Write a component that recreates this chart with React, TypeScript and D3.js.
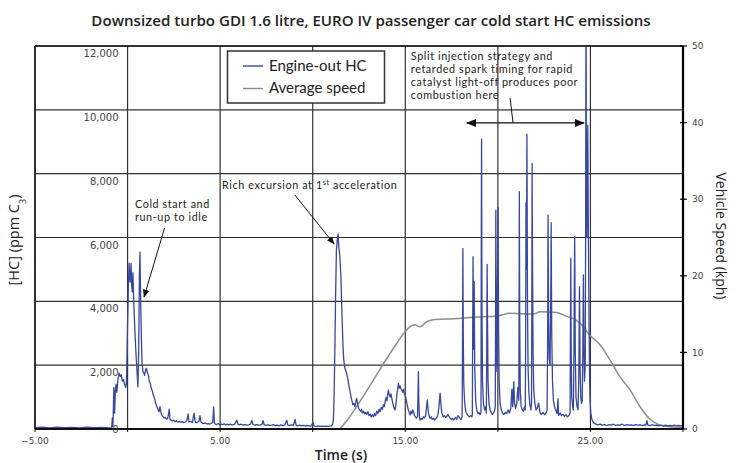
import React from "react";
import * as d3 from "d3";

// ---------- data ----------
const xLabelTicks = [-5, 5, 15, 25];
const xGridTicks = [-5, 0, 5, 10, 15, 20, 25, 30];
const hcTicks = [0, 2000, 4000, 6000, 8000, 10000, 12000];
const speedTicks = [0, 10, 20, 30, 40, 50];

const seriesNames = ["Engine-out HC", "Average speed"];

// [time (s), HC (ppm C3)]
const hcPoints: [number, number][] = [
  [-5, 40], [-4.6, 55], [-4.2, 35], [-3.8, 60], [-3.4, 40], [-3, 50], [-2.6, 35], [-2.2, 55], [-1.8, 40], [-1.4, 50], [-1.0, 35], [-0.86, 40],
  [-0.82, 350], [-0.79, 80], [-0.74, 1300], [-0.7, 500], [-0.66, 1200], [-0.62, 1400], [-0.58, 1150], [-0.52, 1550], [-0.46, 1750], [-0.4, 1650],
  [-0.34, 1700], [-0.28, 1500], [-0.22, 1550], [-0.16, 1400], [-0.1, 1300], [-0.06, 1450], [0.0, 3300], [0.05, 4600], [0.08, 5200], [0.11, 4800],
  [0.14, 4600], [0.19, 5190], [0.22, 4500], [0.25, 4300], [0.29, 4900], [0.34, 3900], [0.4, 3000], [0.46, 2300], [0.52, 1700], [0.56, 1320],
  [0.6, 2400], [0.64, 4800], [0.67, 5540], [0.7, 4300], [0.74, 3000], [0.78, 2100], [0.83, 1800], [0.88, 1750], [0.92, 1680], [0.97, 1850],
  [1.02, 1900], [1.07, 1760], [1.12, 1700], [1.17, 1500], [1.22, 1450], [1.27, 1300], [1.33, 1200], [1.38, 1080], [1.43, 1000], [1.48, 900],
  [1.53, 780], [1.59, 700], [1.64, 620], [1.7, 540], [1.75, 700], [1.8, 520], [1.86, 420], [1.92, 380], [1.98, 340], [2.04, 360], [2.1, 310],
  [2.16, 320], [2.22, 500], [2.25, 620], [2.29, 300], [2.35, 280], [2.42, 250], [2.5, 270], [2.56, 230], [2.64, 260], [2.72, 220], [2.8, 240],
  [2.88, 210], [2.96, 230], [3.04, 200], [3.12, 220], [3.2, 260], [3.27, 470], [3.32, 220], [3.4, 240], [3.5, 200], [3.59, 500], [3.64, 260],
  [3.7, 200], [3.78, 210], [3.86, 250], [3.91, 420], [3.96, 220], [4.04, 180], [4.12, 170], [4.2, 190], [4.28, 160], [4.36, 170], [4.44, 150],
  [4.52, 180], [4.6, 200], [4.65, 690], [4.69, 200], [4.74, 150], [4.82, 140], [4.9, 170], [4.98, 130], [5.06, 150], [5.14, 140], [5.22, 160],
  [5.3, 130], [5.38, 150], [5.46, 130], [5.54, 150], [5.62, 140], [5.7, 130], [5.8, 160], [5.9, 280], [5.96, 150], [6.04, 130], [6.14, 150],
  [6.24, 120], [6.34, 140], [6.44, 120], [6.54, 130], [6.64, 150], [6.71, 270], [6.78, 140], [6.88, 120], [6.98, 140], [7.08, 120], [7.18, 130],
  [7.26, 150], [7.32, 260], [7.38, 130], [7.48, 110], [7.58, 130], [7.68, 110], [7.78, 120], [7.88, 140], [7.98, 110], [8.08, 120], [8.18, 100],
  [8.28, 130], [8.38, 110], [8.48, 120], [8.6, 270], [8.66, 120], [8.76, 110], [8.86, 130], [8.96, 110], [9.05, 300], [9.1, 120], [9.2, 100],
  [9.3, 120], [9.4, 100], [9.5, 110], [9.6, 90], [9.7, 110], [9.8, 100], [9.9, 90], [10.02, 200], [10.08, 90], [10.2, 80], [10.3, 100],
  [10.4, 80], [10.5, 90], [10.6, 80], [10.7, 90], [10.8, 80], [10.9, 90], [11.0, 100], [11.08, 150], [11.12, 300], [11.16, 1200], [11.2, 2600],
  [11.24, 4300], [11.28, 5600], [11.32, 5900], [11.37, 6110], [11.41, 5700], [11.46, 5450], [11.52, 4820], [11.58, 3600], [11.63, 2700],
  [11.67, 2215], [11.72, 1950], [11.77, 1850], [11.82, 1780], [11.87, 1640], [11.92, 1500], [11.97, 1300], [12.02, 1170], [12.07, 1000],
  [12.12, 880], [12.17, 760], [12.22, 800], [12.28, 700], [12.33, 860], [12.38, 960], [12.43, 780], [12.48, 650], [12.53, 600], [12.58, 560],
  [12.63, 620], [12.68, 500], [12.74, 560], [12.8, 470], [12.86, 520], [12.92, 460], [12.98, 540], [13.04, 420], [13.1, 470], [13.16, 380],
  [13.22, 450], [13.28, 385], [13.34, 480], [13.4, 420], [13.46, 560], [13.52, 480], [13.58, 620], [13.64, 540], [13.7, 680], [13.76, 620],
  [13.82, 760], [13.87, 700], [13.91, 860], [13.96, 980], [14.01, 880], [14.05, 1100], [14.09, 1220], [14.13, 1080], [14.18, 1000], [14.23, 1100],
  [14.27, 960], [14.32, 820], [14.37, 700], [14.41, 640], [14.45, 600], [14.5, 800], [14.55, 1100], [14.6, 1300], [14.63, 1430], [14.67, 1280],
  [14.72, 1350], [14.77, 1250], [14.81, 1220], [14.86, 1150], [14.91, 1250], [14.95, 1100], [14.99, 1065], [15.04, 950], [15.08, 820],
  [15.11, 750], [15.16, 600], [15.21, 520], [15.26, 440], [15.31, 560], [15.36, 480], [15.4, 600], [15.44, 540], [15.5, 420], [15.55, 380],
  [15.6, 340], [15.66, 380], [15.69, 1200], [15.71, 1795], [15.73, 900], [15.76, 420], [15.8, 280], [15.86, 330], [15.92, 300], [15.98, 385],
  [16.04, 350], [16.1, 420], [16.15, 700], [16.19, 910], [16.23, 600], [16.28, 420], [16.34, 335], [16.4, 380], [16.46, 300], [16.52, 340],
  [16.58, 280], [16.64, 320], [16.7, 360], [16.76, 450], [16.82, 700], [16.86, 1000], [16.88, 1120], [16.92, 800], [16.97, 520], [17.02, 420],
  [17.06, 385], [17.12, 420], [17.18, 360], [17.24, 400], [17.3, 460], [17.36, 400], [17.42, 340], [17.48, 300], [17.54, 330], [17.6, 280],
  [17.66, 320], [17.72, 360], [17.78, 300], [17.84, 420], [17.9, 380], [17.96, 320], [18.02, 300], [18.07, 400], [18.09, 2500], [18.11, 5660],
  [18.13, 3000], [18.16, 1400], [18.2, 900], [18.25, 600], [18.3, 500], [18.38, 420], [18.46, 380], [18.54, 420], [18.6, 380], [18.62, 450],
  [18.64, 3000], [18.66, 5400], [18.69, 2500], [18.72, 4615], [18.75, 2000], [18.8, 900], [18.86, 600], [18.92, 480], [18.98, 520], [19.04, 450],
  [19.08, 500], [19.09, 600], [19.1, 4500], [19.11, 7300], [19.12, 9085], [19.14, 4000], [19.17, 1500], [19.22, 800], [19.28, 600], [19.34, 700],
  [19.38, 500], [19.4, 2500], [19.42, 5160], [19.44, 3500], [19.47, 1500], [19.52, 800], [19.58, 600], [19.64, 520], [19.7, 450], [19.76, 500],
  [19.82, 560], [19.86, 700], [19.88, 4000], [19.89, 6860], [19.92, 2800], [19.95, 1800], [19.98, 4500], [20.01, 6935], [20.04, 3000],
  [20.07, 1500], [20.12, 800], [20.18, 600], [20.25, 500], [20.32, 450], [20.4, 520], [20.48, 480], [20.55, 600], [20.62, 500], [20.7, 650],
  [20.76, 1250], [20.8, 700], [20.86, 1480], [20.9, 800], [20.96, 650], [21.02, 800], [21.08, 1300], [21.13, 900], [21.15, 4500], [21.16, 7435],
  [21.18, 3500], [21.21, 1200], [21.26, 700], [21.32, 600], [21.38, 550], [21.44, 700], [21.48, 600], [21.5, 2500], [21.52, 7100], [21.54, 5000],
  [21.57, 9240], [21.6, 4000], [21.63, 2000], [21.67, 1200], [21.72, 800], [21.78, 600], [21.82, 800], [21.84, 5000], [21.85, 8325],
  [21.87, 5500], [21.9, 2500], [21.94, 1200], [22.0, 800], [22.06, 600], [22.12, 650], [22.2, 810], [22.28, 500], [22.36, 450], [22.44, 520],
  [22.52, 450], [22.6, 500], [22.66, 600], [22.69, 3000], [22.71, 6700], [22.74, 3500], [22.77, 2200], [22.82, 2000], [22.86, 4500],
  [22.88, 6465], [22.91, 3000], [22.95, 1500], [23.0, 900], [23.06, 700], [23.12, 600], [23.2, 480], [23.25, 950], [23.28, 430], [23.36, 500],
  [23.44, 420], [23.52, 460], [23.6, 400], [23.68, 450], [23.76, 380], [23.84, 420], [23.9, 500], [23.92, 3000], [23.94, 5350], [23.96, 2500],
  [23.99, 1000], [24.04, 700], [24.08, 600], [24.11, 2500], [24.13, 4500], [24.15, 6025], [24.18, 2500], [24.22, 1000], [24.28, 700],
  [24.33, 600], [24.37, 1500], [24.39, 3000], [24.41, 4460], [24.44, 2000], [24.48, 1000], [24.52, 800], [24.56, 900], [24.59, 2500],
  [24.62, 4825], [24.65, 2500], [24.68, 1500], [24.72, 2000], [24.74, 6000], [24.76, 14000], [24.78, 9000], [24.81, 6000], [24.84, 8000],
  [24.86, 9520], [24.89, 6000], [24.93, 3000], [24.96, 1500], [24.98, 900], [25.02, 500], [25.08, 300], [25.16, 200], [25.26, 160],
  [25.4, 130], [25.52, 150], [25.64, 120], [25.76, 140], [25.88, 110], [26.0, 140], [26.12, 120], [26.24, 150], [26.36, 110], [26.48, 130],
  [26.6, 120], [26.72, 150], [26.84, 110], [26.96, 140], [27.08, 120], [27.2, 130], [27.32, 110], [27.44, 140], [27.56, 120], [27.68, 130],
  [27.8, 110], [27.92, 130], [28.0, 120], [28.05, 260], [28.1, 120], [28.22, 110], [28.34, 130], [28.46, 110], [28.58, 120], [28.7, 100],
  [28.82, 120], [28.94, 100], [29.06, 120], [29.18, 100], [29.3, 110], [29.42, 100], [29.54, 120], [29.66, 100], [29.78, 110], [29.9, 100],
  [30.0, 110],
];

// [time (s), vehicle speed (kph)]
const speedPoints: [number, number][] = [
  [-5, 0], [11.39, 0], [11.75, 0.8], [12.2, 2.3], [13.1, 5.7], [14.0, 9.2], [14.54, 11.2], [14.99, 12.7], [15.26, 13.35],
  [15.53, 13.6], [15.8, 13.35], [16.16, 14.0], [16.61, 14.3], [17.6, 14.4], [18.68, 14.6], [19.94, 14.75], [20.66, 15.1],
  [21.92, 15.0], [22.28, 15.3], [23.18, 15.2], [23.72, 14.7], [24.08, 14.4], [24.44, 13.8], [24.98, 12.2], [25.52, 11.0],
  [26.06, 9.0], [26.6, 6.8], [27.14, 5.1], [27.68, 2.9], [28.22, 1.27], [28.77, 0.5], [29.31, 0.3], [30.0, 0.2],
];

const titleText = "Downsized turbo GDI 1.6 litre, EURO IV passenger car cold start HC emissions";
const coldStartLines = ["Cold start and", "run-up to idle"];
const splitLines = [
  "Split injection strategy and",
  "retarded spark timing for rapid",
  "catalyst light-off produces poor",
  "combustion here",
];

// ---------- layout ----------
const W = 740;
const H = 463;
const L = 35, R = 683, T = 46, B = 429;
const FONT = "Lato, 'Open Sans', sans-serif";
const FONT2 = "'Open Sans', Lato, sans-serif";
const TICKFONT = "'DejaVu Sans', sans-serif";
const BLUE = "#3848a0";
const GREY = "#8c8c8c";

export default function App() {
  const x = d3.scaleLinear().domain([-5, 30]).range([L, R]);
  const y = d3.scaleLinear().domain([0, 12000]).range([B, T]);
  const ys = d3.scaleLinear().domain([0, 50]).range([B, T]);

  const hcLine = d3.line<[number, number]>().x((d) => x(d[0])).y((d) => y(d[1]));
  const spLine = d3
    .line<[number, number]>()
    .x((d) => x(d[0]))
    .y((d) => ys(d[1]))
    .curve(d3.curveMonotoneX);

  const fmtX = d3.format(".2f");
  const fmtY = d3.format(",");

  return (
    <svg
      width={W}
      height={H}
      style={{ position: "absolute", left: 0, top: 0, background: "#fff" }}
    >
      <defs>
        <clipPath id="plot">
          <rect x={L} y={T} width={R - L} height={B - T} />
        </clipPath>
        <marker id="ah" viewBox="0 0 10 10" refX="9" refY="5" markerWidth="8" markerHeight="8" orient="auto-start-reverse">
          <path d="M0,1 L10,5 L0,9 z" fill="#111" />
        </marker>
      </defs>

      {/* title */}
      <text x={371} y={26} textAnchor="middle" fontFamily={FONT2} fontWeight={600} fontSize={15.1} fill="#222">
        {titleText}
      </text>

      {/* grid */}
      <g stroke="#333" strokeWidth={1.2}>
        {hcTicks.map((t) => (
          <line key={"h" + t} x1={L} x2={R} y1={y(t)} y2={y(t)} />
        ))}
        {xGridTicks.map((t) => (
          <line key={"v" + t} x1={x(t)} x2={x(t)} y1={T} y2={B + 3} />
        ))}
      </g>

      {/* series */}
      <g clipPath="url(#plot)">
        <path d={spLine(speedPoints) || ""} fill="none" stroke={GREY} strokeWidth={1.5} />
        <path d={hcLine(hcPoints) || ""} fill="none" stroke={BLUE} strokeWidth={1.3} strokeLinejoin="round" />
      </g>

      {/* frame */}
      <line x1={L} x2={R} y1={T} y2={T} stroke="#111" strokeWidth={1.6} />
      <line x1={L} x2={L} y1={T} y2={B} stroke="#111" strokeWidth={1.4} />
      <line x1={L} x2={R} y1={B} y2={B} stroke="#111" strokeWidth={1.8} />
      <line x1={R} x2={R} y1={T} y2={B} stroke="#000" strokeWidth={2.2} />

      {/* left tick labels (inside plot) */}
      <g fontFamily={TICKFONT} fontSize={10} fill="#444" textAnchor="end">
        {hcTicks.map((t) => (
          <text key={"yl" + t} x={x(0) - 9} y={y(t) + (t === 0 ? 4 : 11)}>
            {fmtY(t)}
          </text>
        ))}
      </g>

      {/* right axis */}
      <g>
        {speedTicks.map((t) => (
          <g key={"r" + t}>
            <line x1={R - 3} x2={R + 4} y1={ys(t)} y2={ys(t)} stroke="#000" strokeWidth={1.2} />
            <text x={R + 9} y={ys(t)} dy="0.35em" fontFamily={TICKFONT} fontSize={9} fill="#444">
              {t}
            </text>
          </g>
        ))}
      </g>

      {/* x tick labels */}
      <g fontFamily={TICKFONT} fontSize={9} fill="#444" textAnchor="middle">
        {xLabelTicks.map((t) => (
          <text key={"xl" + t} x={x(t)} y={444}>
            {fmtX(t)}
          </text>
        ))}
      </g>

      {/* axis titles */}
      <text x={341} y={460} textAnchor="middle" fontFamily={FONT2} fontWeight={600} fontSize={14} fill="#222">
        Time (s)
      </text>
      <text
        transform={`translate(19, 240) rotate(-90)`}
        textAnchor="middle"
        fontFamily={FONT2}
        fontSize={14.5}
        fill="#222"
      >
        [HC] (ppm C<tspan baselineShift="sub" fontSize={9}>3</tspan>)
      </text>
      <text
        transform={`translate(716, 236) rotate(90)`}
        textAnchor="middle"
        fontFamily={FONT2}
        fontSize={14}
        fill="#222"
      >
        Vehicle Speed (kph)
      </text>

      {/* legend */}
      <g>
        <rect x={227.5} y={51} width={157} height={52} fill="#fff" stroke="#333" strokeWidth={1.5} />
        <line x1={243} x2={263} y1={66} y2={66} stroke={BLUE} strokeWidth={1.4} />
        <line x1={243} x2={263} y1={88.5} y2={88.5} stroke={GREY} strokeWidth={1.4} />
        <text x={269} y={71} fontFamily={FONT} fontSize={15} fill="#222">
          {seriesNames[0]}
        </text>
        <text x={269} y={93} fontFamily={FONT} fontSize={15} fill="#222">
          {seriesNames[1]}
        </text>
      </g>

      {/* annotations */}
      <g fontFamily={FONT} fontSize={10.8} letterSpacing={0.6} fill="#222">
        {coldStartLines.map((s, i) => (
          <text key={"cs" + i} x={x(0.4)} y={208 + i * 13}>
            {s}
          </text>
        ))}
        <text x={x(5.1)} y={188.5}>
          Rich excursion at 1<tspan baselineShift="super" fontSize={7}>st</tspan> acceleration
        </text>
        {splitLines.map((s, i) => (
          <text key={"sp" + i} x={x(15.3)} y={60 + i * 13}>
            {s}
          </text>
        ))}
      </g>
      <g stroke="#111" strokeWidth={1} fill="none">
        <line x1={x(2.0)} y1={y(6300)} x2={x(0.89)} y2={y(4140)} markerEnd="url(#ah)" />
        <line x1={x(9.04)} y1={y(7330)} x2={x(11.15)} y2={y(5800)} markerEnd="url(#ah)" />
        <line x1={x(18.33)} y1={y(9590)} x2={x(24.65)} y2={y(9590)} strokeWidth={1.3} markerStart="url(#ah)" markerEnd="url(#ah)" />
        <line x1={x(20.66)} y1={y(10370)} x2={x(20.82)} y2={y(9590)} />
      </g>
    </svg>
  );
}
